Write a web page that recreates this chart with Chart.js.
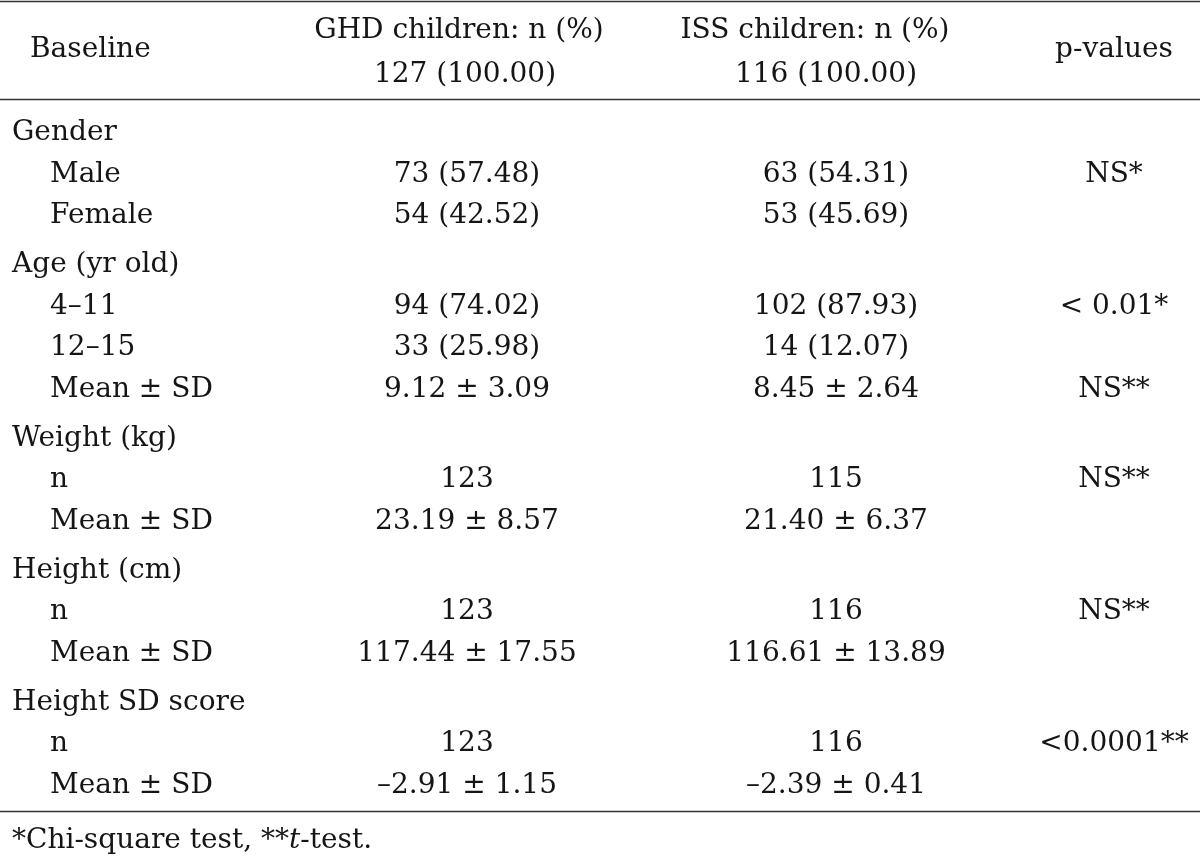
<!DOCTYPE html>
<html lang="en">
<head>
  <meta charset="UTF-8">
  <title>Baseline characteristics</title>
  <style>
    * { box-sizing: border-box; margin: 0; padding: 0; }
    body { background: #fff; }
    .wrap { width: 1200px; height: 858px; position: relative; }
  </style>
</head>
<body>
  <div class="wrap">
    <canvas id="chart"></canvas>
  </div>

  <script src="https://cdn.jsdelivr.net/npm/chart.js@4/dist/chart.umd.min.js"></script>
  <script>
    // Table content, one entry per body row
    const rowLabels = ['Gender', 'Male', 'Female', 'Age (yr old)', '4–11', '12–15', 'Mean ± SD',
                       'Weight (kg)', 'n', 'Mean ± SD', 'Height (cm)', 'n', 'Mean ± SD',
                       'Height SD score', 'n', 'Mean ± SD'];
    const ghdCells  = ['', '73 (57.48)', '54 (42.52)', '', '94 (74.02)', '33 (25.98)', '9.12 ± 3.09',
                       '', '123', '23.19 ± 8.57', '', '123', '117.44 ± 17.55',
                       '', '123', '–2.91 ± 1.15'];
    const issCells  = ['', '63 (54.31)', '53 (45.69)', '', '102 (87.93)', '14 (12.07)', '8.45 ± 2.64',
                       '', '115', '21.40 ± 6.37', '', '116', '116.61 ± 13.89',
                       '', '116', '–2.39 ± 0.41'];
    const pValues   = ['', 'NS*', '', '', '< 0.01*', '', 'NS**',
                       '', 'NS**', '', '', 'NS**', '',
                       '', '<0.0001**', ''];

    const headBaseline = ['Baseline'];
    const headGhd      = ['GHD children: n (%)', '127 (100.00)'];
    const headIss      = ['ISS children: n (%)', '116 (100.00)'];
    const headP        = ['p-values'];
    const footnote     = ['*Chi-square test, **', 't', '-test.'];

    // layout: x and y are values on the hidden linear scales (0..1200, 0..858 top-down)
    const FONT = '28px "DejaVu Serif"';
    const INK = '#151515';
    const COL = { label: 12, indent: 50, head: 30, ghdHead1: 459, ghdHead2: 465, ghd: 467,
                  issHead1: 815, issHead2: 826, iss: 836, p: 1114 };
    const ROW = { top: 1, head1: 38, headMid: 57, head2: 82, divider: 99, first: 140,
                  step: 41.5, groupStep: 49, bottom: 811, note: 848 };

    // baseline of each body row, group rows get a little more room above
    const rowY = [];
    rowLabels.forEach((lab, i) => {
      if (i === 0) rowY.push(ROW.first);
      else rowY.push(rowY[i - 1] + (ghdCells[i] === '' ? ROW.groupStep : ROW.step));
    });

    const tableText = {
      id: 'tableText',
      afterDraw(chart) {
        const { ctx, chartArea, scales: { x, y } } = chart;
        ctx.save();
        ctx.fillStyle = INK;
        ctx.font = FONT;
        ctx.textBaseline = 'alphabetic';

        const put = (txt, col, row, align) => {
          if (!txt) return;
          ctx.textAlign = align;
          ctx.fillText(txt, x.getPixelForValue(col), y.getPixelForValue(row));
        };

        // rules
        ctx.strokeStyle = '#333';
        ctx.lineWidth = 1.5;
        [ROW.top, ROW.divider, ROW.bottom].forEach(r => {
          const py = Math.round(y.getPixelForValue(r)) + 0.5;
          ctx.beginPath();
          ctx.moveTo(chartArea.left, py);
          ctx.lineTo(chartArea.right, py);
          ctx.stroke();
        });

        // header
        put(headBaseline[0], COL.head, ROW.headMid, 'left');
        put(headGhd[0], COL.ghdHead1, ROW.head1, 'center');
        put(headGhd[1], COL.ghdHead2, ROW.head2, 'center');
        put(headIss[0], COL.issHead1, ROW.head1, 'center');
        put(headIss[1], COL.issHead2, ROW.head2, 'center');
        put(headP[0], COL.p, ROW.headMid, 'center');

        // body
        rowLabels.forEach((lab, i) => {
          const isGroup = ghdCells[i] === '';
          put(lab, isGroup ? COL.label : COL.indent, rowY[i], 'left');
          put(ghdCells[i], COL.ghd, rowY[i], 'center');
          put(issCells[i], COL.iss, rowY[i], 'center');
          put(pValues[i], COL.p, rowY[i], 'center');
        });

        // footnote with italic t
        let fx = x.getPixelForValue(COL.label);
        const fy = y.getPixelForValue(ROW.note);
        ctx.textAlign = 'left';
        footnote.forEach((part, k) => {
          ctx.font = k === 1 ? 'italic ' + FONT : FONT;
          ctx.fillText(part, fx, fy);
          fx += ctx.measureText(part).width;
        });
        ctx.restore();
      }
    };

    new Chart(document.getElementById('chart'), {
      type: 'scatter',
      data: { datasets: [] },
      options: {
        responsive: true,
        maintainAspectRatio: false,
        animation: false,
        layout: { padding: 0 },
        plugins: { legend: { display: false }, tooltip: { enabled: false } },
        scales: {
          x: { type: 'linear', min: 0, max: 1200, display: false },
          y: { type: 'linear', min: 0, max: 858, reverse: true, display: false }
        }
      },
      plugins: [tableText]
    });
  </script>
</body>
</html>
